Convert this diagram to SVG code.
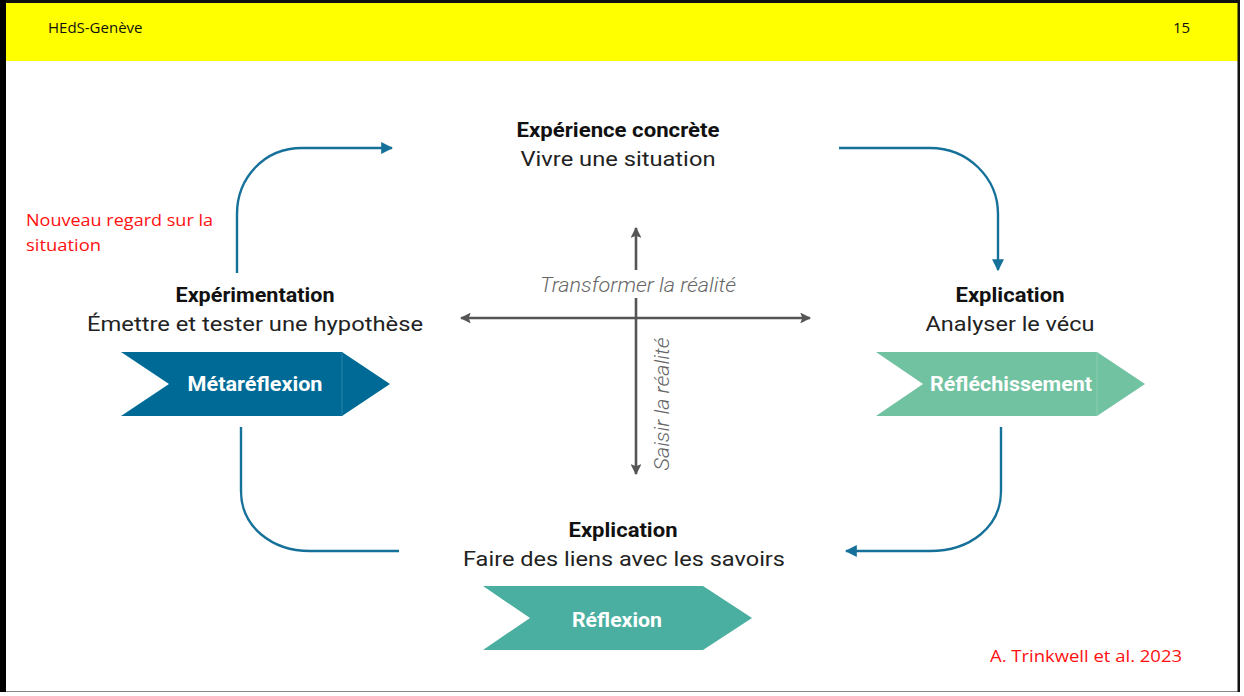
<svg xmlns="http://www.w3.org/2000/svg" width="1244" height="696" viewBox="0 0 1244 696">
<defs>
<style>
.hdr{font-family:"Open Sans","Liberation Sans",sans-serif;font-size:15px;fill:#111}
.red{font-family:"Open Sans","Liberation Sans",sans-serif;font-size:17px;fill:#ff1010}
.ttl{font-family:Roboto,"Liberation Sans",sans-serif;font-size:21px;font-weight:bold;fill:#111}
.sub{font-family:Roboto,"Liberation Sans",sans-serif;font-size:21px;fill:#222}
.chv{font-family:Roboto,"Liberation Sans",sans-serif;font-size:21px;font-weight:bold;fill:#fff}
.ax{font-family:Roboto,"Liberation Sans",sans-serif;font-size:20px;font-style:italic;fill:#666;font-weight:300}
.flow{fill:none;stroke:#16719a;stroke-width:2.4}
.axis{fill:none;stroke:#555;stroke-width:2.6}
</style>
<marker id="ab" viewBox="0 0 10 10" refX="9" refY="5" markerWidth="5" markerHeight="5" markerUnits="strokeWidth" orient="auto"><path d="M0 0L10 5L0 10z" fill="#16719a"/></marker>
<marker id="ag" viewBox="0 0 10 10" refX="9" refY="5" markerWidth="4.2" markerHeight="4.2" markerUnits="strokeWidth" orient="auto-start-reverse"><path d="M0 0L10 5L0 10L2 5z" fill="#555"/></marker>
</defs>
<rect x="0" y="0" width="1244" height="696" fill="#fff"/>
<rect x="6" y="3" width="1232" height="58" fill="#ffff00"/>
<path d="M3 1.5H1239V693H3z" fill="none" stroke="#111" stroke-width="3"/>
<rect x="0" y="0" width="6" height="696" fill="#000"/>
<rect x="0" y="692" width="1244" height="4" fill="#fff"/>
<rect x="1240" y="0" width="4" height="696" fill="#fff"/>
<text class="hdr" x="48" y="33">HEdS-Genève</text>
<text class="hdr" x="1173" y="33">15</text>

<g id="connectors">
<path class="flow" d="M237 273V214C237 178 264 148 302 148H392" marker-end="url(#ab)"/>
<path class="flow" d="M839 148H930C968 148 998 178 998 214V270" marker-end="url(#ab)"/>
<path class="flow" d="M241 427V491C241 527 272 551 310 551H399"/>
<path class="flow" d="M1001 427V491C1001 527 970 551 930 551H846" marker-end="url(#ab)"/>
<path class="axis" d="M461 318H810" marker-start="url(#ag)" marker-end="url(#ag)"/>
<path class="axis" d="M636 270V228" marker-end="url(#ag)"/>
<path class="axis" d="M636 298V474" marker-end="url(#ag)"/>
</g>

<g id="axis-labels">
<text class="ax" x="638" y="292" text-anchor="middle" textLength="196" lengthAdjust="spacingAndGlyphs">Transformer la réalité</text>
<text class="ax" transform="translate(669 404) rotate(-90)" x="0" y="0" text-anchor="middle" textLength="133" lengthAdjust="spacingAndGlyphs">Saisir la réalité</text>
</g>

<g id="node-experience">
<text class="ttl" x="618" y="137" text-anchor="middle" textLength="203" lengthAdjust="spacingAndGlyphs">Expérience concrète</text>
<text class="sub" x="618" y="166" text-anchor="middle" textLength="195" lengthAdjust="spacingAndGlyphs">Vivre une situation</text>
</g>

<g id="node-experimentation">
<text class="ttl" x="255" y="302" text-anchor="middle" textLength="159" lengthAdjust="spacingAndGlyphs">Expérimentation</text>
<text class="sub" x="255" y="331" text-anchor="middle" textLength="336" lengthAdjust="spacingAndGlyphs">Émettre et tester une hypothèse</text>
<path d="M121 352H342L390 384L342 416H121L169 384z" fill="#006a96"/>
<path d="M342 352V416" stroke="#2a82a8" stroke-width="1"/>
<text class="chv" x="255" y="391" text-anchor="middle" textLength="135" lengthAdjust="spacingAndGlyphs">Métaréflexion</text>
</g>

<g id="node-explication-right">
<text class="ttl" x="1010" y="302" text-anchor="middle" textLength="109" lengthAdjust="spacingAndGlyphs">Explication</text>
<text class="sub" x="1010" y="331" text-anchor="middle" textLength="169" lengthAdjust="spacingAndGlyphs">Analyser le vécu</text>
<path d="M876 352H1097L1145 384L1097 416H876L923 384z" fill="#71c2a1"/>
<path d="M1097 352V416" stroke="#8ccfb3" stroke-width="1"/>
<text class="chv" x="1011" y="391" text-anchor="middle" textLength="162" lengthAdjust="spacingAndGlyphs">Réfléchissement</text>
</g>

<g id="node-explication-bottom">
<text class="ttl" x="623" y="537" text-anchor="middle" textLength="109" lengthAdjust="spacingAndGlyphs">Explication</text>
<text class="sub" x="624" y="566" text-anchor="middle" textLength="322" lengthAdjust="spacingAndGlyphs">Faire des liens avec les savoirs</text>
<path d="M483 586H703L752 618L703 650H483L530 618z" fill="#4aafa0"/>
<text class="chv" x="617" y="627" text-anchor="middle" textLength="90" lengthAdjust="spacingAndGlyphs">Réflexion</text>
</g>

<g id="notes">
<text class="red" x="26" y="226" textLength="187" lengthAdjust="spacingAndGlyphs">Nouveau regard sur la</text>
<text class="red" x="26" y="251" textLength="75" lengthAdjust="spacingAndGlyphs">situation</text>
<text class="red" x="990" y="662" textLength="192" lengthAdjust="spacingAndGlyphs">A. Trinkwell et al. 2023</text>
</g>
</svg>
